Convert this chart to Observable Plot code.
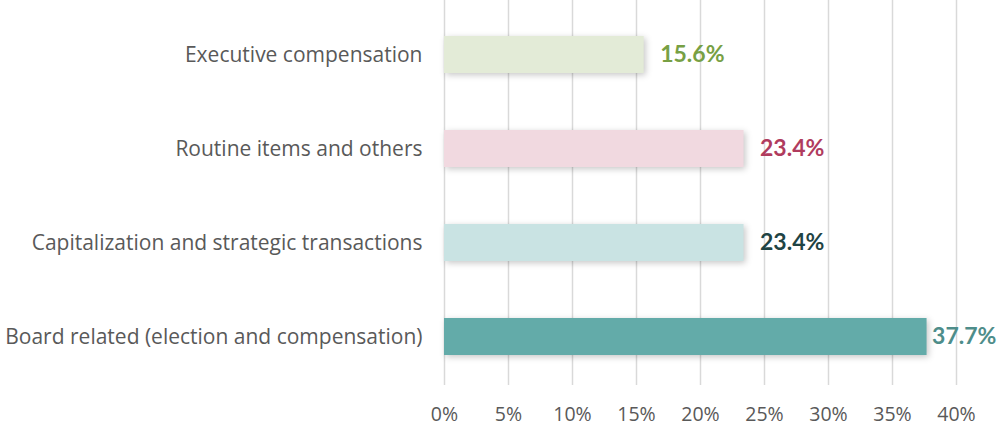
<!DOCTYPE html>
<html><head><meta charset="utf-8">
<script src="https://cdn.jsdelivr.net/npm/d3@7"></script>
<script src="https://cdn.jsdelivr.net/npm/@observablehq/plot@0.6"></script>
<style>
body{margin:0;background:#fff;}
g[aria-label="bar"] rect{filter:drop-shadow(2px 2px 3px rgba(0,0,0,0.22));}
g[aria-label^="x-axis"] text{font-size:19.5px;}
</style>
</head><body><div id="chart"></div>
<script>
const categories = ["Executive compensation","Routine items and others","Capitalization and strategic transactions","Board related (election and compensation)"];
const values = [0.156, 0.234, 0.234, 0.377];
const tickValues = [0,0.05,0.10,0.15,0.20,0.25,0.30,0.35,0.40];

const barColors = ["#e3ebd7","#f1d9e0","#c9e3e3","#63aba9"];
const labelColors = ["#77a044","#b03c5e","#1f4444","#4e8d8a"];

const data = categories.map((c,i)=>({category:c, value:values[i], idx:i}));
const labelOpts = (dx, filter) => ({x:"value", y:"category", filter, text:d=>(d.value*100).toFixed(1)+"%", fill:d=>labelColors[d.idx], textAnchor:"start", dx, fontWeight:"bold", fontSize:23, fontFamily:"Lato, sans-serif"});

const chart = Plot.plot({
  width: 998, height: 426,
  marginLeft: 444, marginRight: 42, marginTop: 0, marginBottom: 41,
  style:{fontFamily:"'Open Sans', sans-serif", fontSize:"21px", color:"#595959", background:"#fff", overflow:"visible"},
  x:{domain:[0,0.4], ticks:tickValues, tickFormat:d=>Math.round(d*100)+"%", tickSize:0, tickPadding:21.5, label:null},
  y:{domain:categories, range:[6.3,383.5], paddingInner:0.61, paddingOuter:0.305, tickSize:0, tickPadding:22, label:null},
  marks:[
    Plot.ruleX(tickValues,{stroke:"#d9d9d9", strokeWidth:1.5, strokeOpacity:1}),
    Plot.barX(data,{x:"value", y:"category", fill:d=>barColors[d.idx]}),
    Plot.text(data, labelOpts(16, d=>d.value < 0.35)),
    Plot.text(data, labelOpts(5, d=>d.value >= 0.35))
  ]
});
document.getElementById("chart").appendChild(chart);
</script></body></html>
